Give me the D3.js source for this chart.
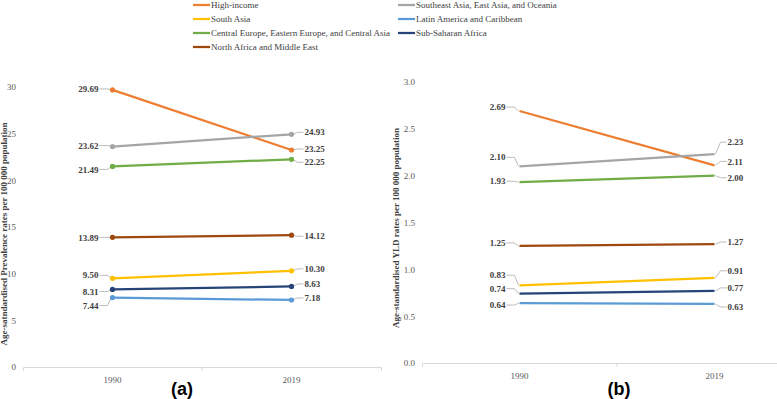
<!DOCTYPE html>
<html>
<head>
<meta charset="utf-8">
<script src="https://cdn.jsdelivr.net/npm/d3@7"></script>
<style>
  html, body { margin: 0; padding: 0; background: #fff; }
  svg { display: block; }
</style>
</head>
<body>
<svg id="chart" width="777" height="399"></svg>
<script>
// ---------- data ----------
const years = ["1990", "2019"];
const regions = [
  "High-income",
  "Southeast Asia, East Asia, and Oceania",
  "South Asia",
  "Latin America and Caribbean",
  "Central Europe, Eastern Europe, and Central Asia",
  "Sub-Saharan Africa",
  "North Africa and Middle East"
];
const prevalence1990 = [29.69, 23.62, 9.50, 7.44, 21.49, 8.31, 13.89];
const prevalence2019 = [23.25, 24.93, 10.30, 7.18, 22.25, 8.63, 14.12];
const yld1990 = [2.69, 2.10, 0.83, 0.64, 1.93, 0.74, 1.25];
const yld2019 = [2.11, 2.23, 0.91, 0.63, 2.00, 0.77, 1.27];
const prevalenceTicks = [0, 5, 10, 15, 20, 25, 30];
const yldTicks = [0, 0.5, 1.0, 1.5, 2.0, 2.5, 3.0];
const prevalenceTitle = "Age-satndardised Prevalence rates per 100 000 population";
const yldTitle = "Age-standardised YLD rates per 100 000 population";

// ---------- styles / layout ----------
const colors = ["#ED7D31", "#A5A5A5", "#FFC000", "#5B9BD5", "#70AD47", "#264478", "#9E480E"];
// vertical label nudges (px) relative to point, to mimic the reference's label placement
const prevLabelShift1990 = [-1, -1, -3, 8, 3, 2, 0];
const prevLabelShift2019 = [-1, -2, -2, -2, 3, -2.5, 1];
const yldLabelShift1990 = [-4, -9, -10, 2, -1, -5, -3];
const yldLabelShift2019 = [-4, -12, -7, 3, 2, -3, -2];

const serif = "'Liberation Serif', 'Times New Roman', serif";
const svg = d3.select("#chart");

// ---------- legend ----------
const legend = svg.append("g");
const legendCols = [193, 398];
const legendRows = [5, 19, 33, 47];
regions.forEach((name, i) => {
  const col = i % 2, row = Math.floor(i / 2);
  const lx = legendCols[col], ly = legendRows[row];
  legend.append("line")
    .attr("x1", lx).attr("x2", lx + 17).attr("y1", ly).attr("y2", ly)
    .attr("stroke", colors[i]).attr("stroke-width", 2.25);
  legend.append("text")
    .attr("x", lx + 18).attr("y", ly).attr("dy", "0.35em")
    .attr("font-family", serif).attr("font-size", 9)
    .attr("fill", "#404040").text(name);
});

// ---------- panel drawing ----------
function panel(cfg) {
  const g = svg.append("g");
  const x = d3.scaleBand().domain(years).range(cfg.xRange);
  const cx = d => x(d) + x.bandwidth() / 2;
  const y = d3.scaleLinear().domain(cfg.yDomain).range(cfg.yRange);

  // y tick labels
  const yAxis = d3.axisLeft(y).tickValues(cfg.ticks).tickSize(0).tickPadding(3)
    .tickFormat(cfg.tickFormat);
  const ya = g.append("g").attr("transform", `translate(${cfg.yAxisX},0)`).call(yAxis);
  ya.select(".domain").remove();
  ya.selectAll("text").attr("font-family", serif).attr("font-size", 9).attr("fill", "#595959");

  // x axis
  const base = y(0);
  const xAxis = d3.axisBottom(x).tickSizeInner(0).tickSizeOuter(4).tickPadding(10);
  const xa = g.append("g").attr("transform", `translate(0,${base})`).call(xAxis);
  xa.select(".domain").attr("stroke", "#d9d9d9").attr("stroke-width", 1);
  xa.selectAll("text").attr("font-family", serif).attr("font-size", 9).attr("fill", "#595959");
  // category boundary tick
  const bx = x.range()[0] + x.step();
  g.append("line").attr("x1", bx).attr("x2", bx).attr("y1", base).attr("y2", base + 4)
    .attr("stroke", "#d9d9d9");

  // y title
  g.append("text")
    .attr("transform", `translate(${cfg.titleX},${cfg.titleY}) rotate(-90)`)
    .attr("text-anchor", "middle").attr("dy", "0.35em")
    .attr("font-family", serif).attr("font-size", 9).attr("font-weight", "bold")
    .attr("fill", "#404040").text(cfg.title);

  // series
  const series = regions.map((name, i) => ({
    name, i, values: [cfg.v1990[i], cfg.v2019[i]]
  }));
  const line = d3.line().x((d, j) => cx(years[j])).y(d => y(d));

  // leader lines + value labels
  series.forEach(s => {
    const x0 = cx(years[0]), x1 = cx(years[1]);
    const p0 = y(s.values[0]), p1 = y(s.values[1]);
    const l0 = p0 + cfg.shift1990[s.i], l1 = p1 + cfg.shift2019[s.i];
    const leader = d3.line();
    g.append("path")
      .attr("d", leader([[x0 - 13, l0], [x0 - 5, l0], [x0 - 1, p0]]))
      .attr("fill", "none").attr("stroke", "#a6a6a6").attr("stroke-width", 0.75);
    g.append("path")
      .attr("d", leader([[x1 + 1, p1], [x1 + 6, l1], [x1 + 12, l1]]))
      .attr("fill", "none").attr("stroke", "#a6a6a6").attr("stroke-width", 0.75);
    g.append("text").attr("x", x0 - 14).attr("y", l0).attr("dy", "0.35em")
      .attr("text-anchor", "end")
      .attr("font-family", serif).attr("font-size", 9).attr("font-weight", "bold")
      .attr("fill", "#404040").text(d3.format(".2f")(s.values[0]));
    g.append("text").attr("x", x1 + 13).attr("y", l1).attr("dy", "0.35em")
      .attr("text-anchor", "start")
      .attr("font-family", serif).attr("font-size", 9).attr("font-weight", "bold")
      .attr("fill", "#404040").text(d3.format(".2f")(s.values[1]));
  });

  series.forEach(s => {
    g.append("path").attr("d", line(s.values))
      .attr("fill", "none").attr("stroke", colors[s.i]).attr("stroke-width", 2.25);
    if (cfg.markers) {
      g.selectAll(null).data(s.values).join("circle")
        .attr("cx", (d, j) => cx(years[j])).attr("cy", d => y(d)).attr("r", 2.6)
        .attr("fill", colors[s.i]);
    }
  });

  // panel letter
  g.append("text").attr("x", cfg.letterX).attr("y", 395)
    .attr("text-anchor", "middle")
    .attr("font-family", "'Liberation Sans', Arial, sans-serif")
    .attr("font-size", 18).attr("font-weight", "bold").attr("fill", "#000")
    .text(cfg.letter);
}

panel({
  xRange: [23, 381], yDomain: [0, 30], yRange: [367, 87],
  ticks: prevalenceTicks, tickFormat: d3.format("d"), yAxisX: 19,
  title: prevalenceTitle, titleX: 4, titleY: 234,
  v1990: prevalence1990, v2019: prevalence2019,
  shift1990: prevLabelShift1990, shift2019: prevLabelShift2019,
  markers: true, letter: "(a)", letterX: 182
});

panel({
  xRange: [422, 812], yDomain: [0, 3], yRange: [363, 82],
  ticks: yldTicks, tickFormat: d3.format(".1f"), yAxisX: 418,
  title: yldTitle, titleX: 396, titleY: 228,
  v1990: yld1990, v2019: yld2019,
  shift1990: yldLabelShift1990, shift2019: yldLabelShift2019,
  markers: false, letter: "(b)", letterX: 619
});
</script>
</body>
</html>
